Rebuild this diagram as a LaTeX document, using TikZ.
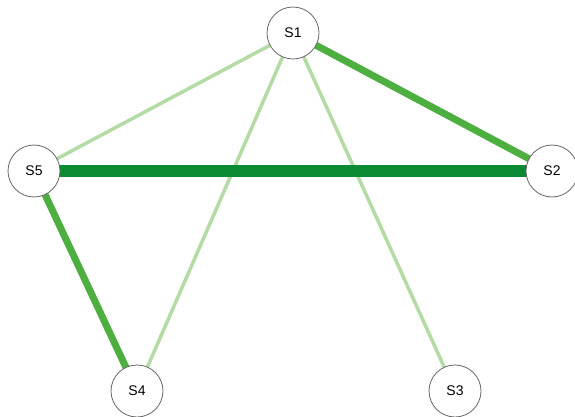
\documentclass[tikz,border=0pt]{standalone}
\usepackage{fontspec}
\setmainfont{Liberation Sans}
\usetikzlibrary{backgrounds}
\definecolor{lightg}{HTML}{B4DBA6}
\definecolor{midg}{HTML}{4CAF40}
\definecolor{darkg}{HTML}{0A8A32}
\begin{document}
\begin{tikzpicture}[x=1pt,y=-1pt,
  station/.style={circle,draw=black!60,line width=0.8pt,fill=white,minimum size=52pt,inner sep=0pt,font=\fontsize{14}{14}\selectfont},
  weak/.style={draw=lightg,line width=3.5pt},
  medium/.style={draw=midg,line width=7pt},
  strong/.style={draw=darkg,line width=12pt}]
\useasboundingbox (0,0) rectangle (575,417);
\node[station] (s1) at (293,33) {S1};
\node[station] (s2) at (552,171) {S2};
\node[station] (s5) at (34,171) {S5};
\node[station] (s4) at (137,391) {S4};
\node[station] (s3) at (455,391) {S3};
\begin{pgfonlayer}{background}
\path[weak] (s1.center) -- (s5.center);
\path[weak] (s1.center) -- (s4.center);
\path[weak] (s1.center) -- (s3.center);
\path[medium] (s1.center) -- (s2.center);
\path[medium] (s5.center) -- (s4.center);
\path[strong] (s5.center) -- (s2.center);
\end{pgfonlayer}
\end{tikzpicture}
\end{document}
